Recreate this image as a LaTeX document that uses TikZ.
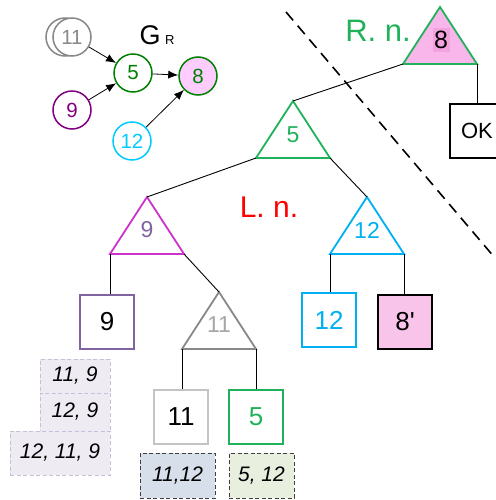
\documentclass[tikz,border=0pt]{standalone}
\usepackage{fontspec}
\setmainfont{Liberation Sans}
\newfontfamily\rawsans{Liberation Sans}
\definecolor{TriGreen}{HTML}{1FB25A}
\definecolor{DkGreen}{HTML}{008000}
\definecolor{TriPink}{HTML}{F9B6EA}
\definecolor{HiPink}{HTML}{F2A2DE}
\definecolor{BoxPink}{HTML}{F9C4E9}
\definecolor{CirPink}{HTML}{FFCCFF}
\definecolor{Magenta}{HTML}{CC33CC}
\definecolor{Plum}{HTML}{8064A2}
\definecolor{DkPurple}{HTML}{800080}
\definecolor{Cyan}{HTML}{00B0F0}
\definecolor{LtCyan}{HTML}{00CCFF}
\definecolor{MidGrey}{HTML}{888888}
\definecolor{LtGrey}{HTML}{A6A6A6}
\definecolor{PaleGrey}{HTML}{C4C4C4}
\definecolor{LnRed}{HTML}{FF0000}
\definecolor{SetBlue}{HTML}{D6DFEA}
\definecolor{SetGreen}{HTML}{E9EFDF}
\definecolor{SetLav}{HTML}{EEEBF3}
\definecolor{SetLavLine}{HTML}{C8BED8}
\usetikzlibrary{positioning,arrows.meta,calc}

% subtree triangle: name, apex, border, fill
\newcommand{\tri}[4]{%
  \draw[tri, draw=#3, fill=#4] (#2) coordinate (#1-t) -- ++(-37,57) coordinate (#1-l)
    -- ++(74,0) coordinate (#1-r) -- cycle;}

\begin{document}
\begin{tikzpicture}[x=1pt, y=-1pt,
    tri/.style={line width=1.8pt, line join=miter},
    leaf/.style={rectangle, draw=#1, line width=1.8pt, minimum size=54pt, inner sep=0pt,
      font=\fontsize{26}{26}\selectfont},
    gnode/.style={circle, draw=#1, text=#1, line width=1.5pt, minimum size=38pt, inner sep=0pt,
      fill=white, font=\fontsize{20.5}{20.5}\selectfont},
    tlabel/.style={inner sep=0.5pt, fill=white, font=\fontsize{23}{23}\selectfont},
    edge/.style={line width=0.9pt},
    garrow/.style={line width=0.8pt, -{Latex[length=10pt,width=8pt]}},
    setbox/.style={rectangle, draw=#1, dash pattern=on 4pt off 2.5pt, line width=1pt, inner sep=0pt,
      font=\itshape\fontsize{21}{21}\selectfont},
    cutline/.style={line width=1.6pt, dash pattern=on 11pt off 7pt}]
  \useasboundingbox (0,0) rectangle (495,500);

  % the graph G_R
  \node[gnode=MidGrey] (g11b) at (65,37) {};
  \node[gnode=MidGrey] (g11) at (72,37) {11};
  \node[gnode=DkGreen] (g5) at (133,73) {5};
  \node[gnode=DkGreen, fill=CirPink] (g8) at (198,76) {8};
  \node[gnode=DkPurple] (g9) at (72,110) {9};
  \node[gnode=LtCyan] (g12) at (132,141) {12};
  \node (gr) at (157,35) {\fontsize{27}{27}\selectfont G\,{\fontsize{13}{13}\selectfont R}};
  \draw[garrow] (g11) -- (g5);
  \draw[garrow] (g9) -- (g5);
  \draw[garrow] (g5) -- (g8);
  \draw[garrow] (g12) -- (g8);

  % tree
  \tri{t8}{440,7}{TriGreen}{TriPink}
  \tri{t5}{293,101}{TriGreen}{white}
  \tri{t9}{147,197}{Magenta}{white}
  \tri{t12}{367,197}{Cyan}{white}
  \tri{t11}{219,292}{MidGrey}{white}
  \node[tlabel, fill=HiPink, minimum width=17pt, minimum height=24pt, inner sep=0pt,
    font=\fontsize{25}{25}\selectfont] (n8) at (441,40) {8};
  \node[tlabel, text=TriGreen] (n5) at (293,135) {5};
  \node[tlabel, text=Plum] (n9) at (147,230) {9};
  \node[tlabel, text=Cyan] (n12) at (367,230) {12};
  \node[tlabel, text=LtGrey] (n11) at (219,325) {11};

  \node[leaf=black, font=\fontsize{22}{22}\selectfont] (ok) at (477,131) {OK};
  \node[leaf=Plum] (b9) at (107,322) {9};
  \node[leaf=Cyan, text=Cyan] (b12) at (329,320) {12};
  \node[leaf=black, fill=BoxPink] (b8) at (405,322) {\rawsans 8'};
  \node[leaf=PaleGrey] (b11) at (181,417) {11};
  \node[leaf=TriGreen, text=TriGreen] (b5) at (256,417) {5};

  \draw[edge] (t8-l) -- (t5-t);
  \draw[edge] (t8-r) -- (t8-r |- ok.north);
  \draw[edge] (t5-l) -- (t9-t);
  \draw[edge] (t5-r) -- (t12-t);
  \draw[edge] (t9-l) -- (t9-l |- b9.north);
  \draw[edge] (t9-r) -- (t11-t);
  \draw[edge] (t12-l) -- (t12-l |- b12.north);
  \draw[edge] (t12-r) -- (t12-r |- b8.north);
  \draw[edge] (t11-l) -- (t11-l |- b11.north);
  \draw[edge] (t11-r) -- (t11-r |- b5.north);

  % sets
  \node[setbox=black!75, fill=SetBlue, minimum width=75pt, minimum height=45pt] (s1112) at (177.5,475.5) {11,12};
  \node[setbox=black!75, fill=SetGreen, minimum width=65pt, minimum height=45pt] (s512) at (261.5,475.5) {5, 12};
  \node[setbox=SetLavLine, fill=SetLav, minimum width=70pt, minimum height=34pt] (s119) at (75,376) {11, 9};
  \node[setbox=SetLavLine, fill=SetLav, minimum width=70pt, minimum height=38pt] (s129) at (75,412) {12, 9};
  \node[setbox=SetLavLine, fill=SetLav, minimum width=100pt, minimum height=44pt] (s12119) at (60,453) {12, 11, 9};

  % labels and cut
  \node[text=TriGreen, font=\fontsize{31}{31}\selectfont] (rn) at (378,31) {R. n.};
  \node[text=LnRed, font=\fontsize{30}{30}\selectfont] (ln) at (269,207) {L. n.};
  \coordinate (cutA) at (286,12);
  \coordinate (cutB) at (495,258);
  \draw[cutline] (cutA) -- (cutB);
\end{tikzpicture}
\end{document}
